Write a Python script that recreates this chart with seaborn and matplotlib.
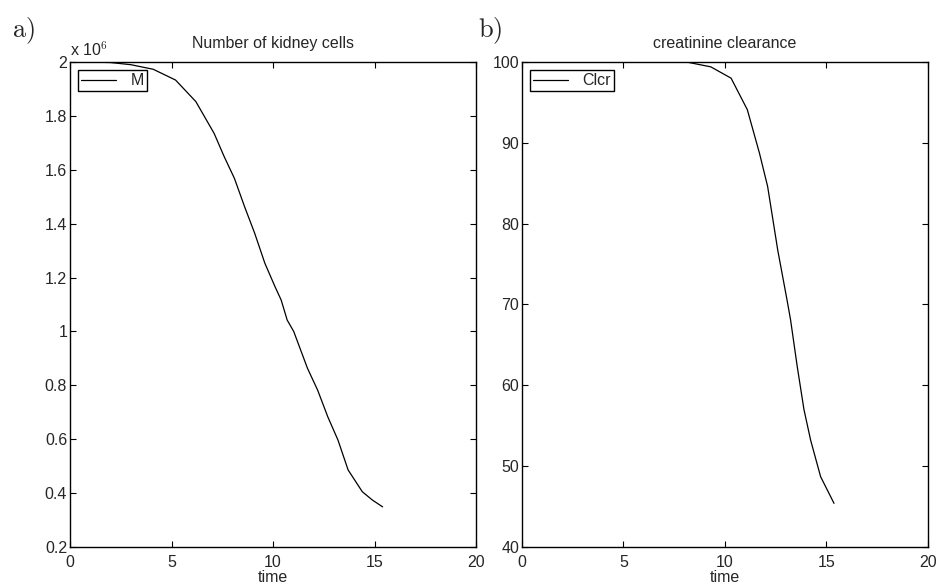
import numpy as np
import pandas as pd
import matplotlib
matplotlib.use("Agg")
import matplotlib.pyplot as plt
from matplotlib.ticker import FuncFormatter, MultipleLocator
import seaborn as sns

# ---- data ----
t_M = [0, 1, 2, 3, 4.1, 5.2, 6.2, 7.1, 7.6, 8.1, 8.6, 9.1, 9.6, 10.1, 10.4,
       10.7, 11.02, 11.7, 12.2, 12.7, 13.2, 13.7, 14.4, 14.9, 15.4]
M_millions = [2.0, 2.0, 1.998, 1.99, 1.973, 1.933, 1.853, 1.735, 1.648, 1.568,
              1.463, 1.364, 1.253, 1.166, 1.117, 1.042, 1.0, 0.863, 0.782,
              0.683, 0.597, 0.486, 0.405, 0.374, 0.349]
t_C = [0, 2, 4, 6, 8.1, 9.3, 10.3, 11.1, 11.7, 12.1, 12.6, 13.06, 13.23, 13.56,
       13.89, 14.22, 14.71, 15.37]
Clcr = [100, 100, 100, 100, 100, 99.4, 98.0, 94.1, 88.7, 84.6, 76.7, 70.5,
        68.1, 62.3, 57.0, 53.2, 48.7, 45.4]

titles = ["Number of kidney cells", "creatinine clearance"]
panel_labels = ["a)", "b)"]
legend_labels = ["M", "Clcr"]
xlabel = "time"

sns.set_style("ticks")
plt.rcParams['font.family'] = ['Liberation Sans', 'DejaVu Sans']
plt.rcParams['mathtext.fontset'] = 'cm'
plt.rcParams['xtick.direction'] = 'in'
plt.rcParams['ytick.direction'] = 'in'
plt.rcParams['xtick.top'] = True
plt.rcParams['ytick.right'] = True

FS = 11.5

fig = plt.figure(figsize=(9.37, 5.87), dpi=100)
ax1 = fig.add_axes([70/937, 1-547/587, 406/937, 485/587])
ax2 = fig.add_axes([522/937, 1-547/587, 406/937, 485/587])

dfM = pd.DataFrame({"time": t_M, "M": np.array(M_millions) * 1e6})
dfC = pd.DataFrame({"time": t_C, "Clcr": Clcr})

sns.lineplot(data=dfM, x="time", y="M", ax=ax1, color="black", lw=0.9,
             label=legend_labels[0])
sns.lineplot(data=dfC, x="time", y="Clcr", ax=ax2, color="black", lw=0.9,
             label=legend_labels[1])

ax1.set_xlim(0, 20)
ax1.set_ylim(0.2e6, 2.0e6)
ax1.yaxis.set_major_locator(MultipleLocator(0.2e6))
ax1.yaxis.set_major_formatter(FuncFormatter(lambda v, p: "%g" % round(v / 1e6, 6)))
ax2.set_xlim(0, 20)
ax2.set_ylim(40, 100)
ax2.yaxis.set_major_locator(MultipleLocator(10))

for ax, title in zip([ax1, ax2], titles):
    ax.xaxis.set_major_locator(MultipleLocator(5))
    ax.xaxis.set_major_formatter(FuncFormatter(lambda v, p: "%g" % v))
    ax.set_title(title, fontsize=FS, pad=10)
    ax.set_xlabel(xlabel, fontsize=FS, labelpad=0)
    ax.set_ylabel("")
    ax.tick_params(labelsize=FS, length=4, width=0.8, pad=2, color='black')
    ax.tick_params(axis='x', pad=6)
    for s in ax.spines.values():
        s.set_visible(True)
        s.set_linewidth(1.0)
        s.set_color('black')
    leg = ax.legend(loc="upper left", fancybox=False, edgecolor="black",
                    framealpha=1, fontsize=FS, handlelength=2.2,
                    borderaxespad=0.5, borderpad=0.2, handletextpad=0.9)
    leg.get_frame().set_linewidth(1.0)
    for line in leg.get_lines():
        line.set_linewidth(0.9)

ax1.text(0.0, 1.006, r"x 10$^{6}$", transform=ax1.transAxes, fontsize=FS,
         ha="left", va="bottom")
fig.text(12/937, 1-15/587, r"$\mathrm{a)}$", fontsize=19, ha="left", va="top")
fig.text(478/937, 1-15/587, r"$\mathrm{b)}$", fontsize=19, ha="left", va="top")

fig.savefig("out.png", dpi=100)
